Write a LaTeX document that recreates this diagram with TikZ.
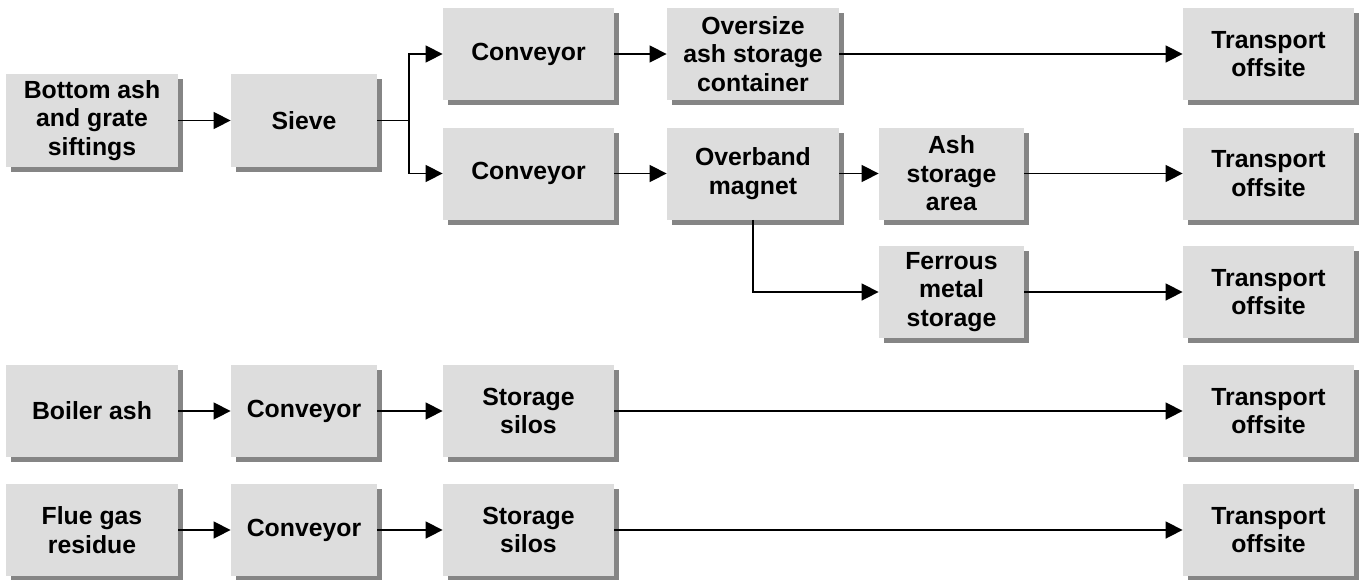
\documentclass[tikz,border=0pt]{standalone}
\usepackage{fontspec}
\setmainfont{Liberation Sans}
\usetikzlibrary{shadows,arrows.meta}
\definecolor{boxgray}{HTML}{DDDDDD}
\definecolor{shadowgray}{HTML}{858585}
\begin{document}
\begin{tikzpicture}[x=0.5pt,y=-0.5pt,
  box/.style={fill=boxgray, inner sep=0pt, minimum height=46pt, align=center,
    font=\bfseries\fontsize{12.4}{14.3}\selectfont,
    drop shadow={shadow xshift=2.5pt, shadow yshift=-2.5pt, fill=shadowgray, opacity=1}},
  wa/.style={minimum width=86pt},
  wb/.style={minimum width=73pt},
  wc/.style={minimum width=85.5pt},
  wd/.style={minimum width=86pt},
  we/.style={minimum width=72.5pt},
  wf/.style={minimum width=85.5pt},
  arr/.style={line width=0.75pt, -{Triangle[length=8.5pt,width=8.5pt]}},
  ln/.style={line width=0.75pt}]
\useasboundingbox (0,0) rectangle (1360,579);
% row nodes
\node[box,wa,minimum height=46.5pt] (b1) at (92,120.5) {Bottom ash\\and grate\\siftings};
\node[box,wb,minimum height=46.5pt] (sv) at (304,120.5) {Sieve};
\node[box,wc] (c1) at (528.5,54) {Conveyor};
\node[box,wc] (c2) at (528.5,173.5) {Conveyor};
\node[box,wd] (ov) at (753,54) {Oversize\\ash storage\\container};
\node[box,wd] (ob) at (753,173.5) {Overband\\magnet};
\node[box,we] (as) at (951.5,173.5) {Ash\\storage\\area};
\node[box,we] (fe) at (951.5,292) {Ferrous\\metal\\storage};
\node[box,wf] (t1) at (1268.5,54) {Transport\\offsite};
\node[box,wf] (t2) at (1268.5,173.5) {Transport\\offsite};
\node[box,wf] (t3) at (1268.5,292) {Transport\\offsite};
\node[box,wf] (t4) at (1268.5,411) {Transport\\offsite};
\node[box,wf] (t5) at (1268.5,530) {Transport\\offsite};
\node[box,wa] (ba) at (92,411) {Boiler ash};
\node[box,wb] (v4) at (304,411) {Conveyor};
\node[box,wc] (s4) at (528.5,411) {Storage\\silos};
\node[box,wa] (fg) at (92,530) {Flue gas\\residue};
\node[box,wb] (v5) at (304,530) {Conveyor};
\node[box,wc] (s5) at (528.5,530) {Storage\\silos};
% connectors
\coordinate (j) at (409,120.5);
\draw[arr] (b1) -- (sv);
\draw[ln] (sv.east) -- (j);
\draw[arr] (j) |- (c1.west);
\draw[arr] (j) |- (c2.west);
\draw[arr] (c1) -- (ov);
\draw[arr] (ov) -- (t1);
\draw[arr] (c2) -- (ob);
\draw[arr] (ob) -- (as);
\draw[arr] (as) -- (t2);
\draw[arr] (ob.south) |- (fe.west);
\draw[arr] (fe) -- (t3);
\draw[arr] (ba) -- (v4);
\draw[arr] (v4) -- (s4);
\draw[arr] (s4) -- (t4);
\draw[arr] (fg) -- (v5);
\draw[arr] (v5) -- (s5);
\draw[arr] (s5) -- (t5);
\end{tikzpicture}
\end{document}
